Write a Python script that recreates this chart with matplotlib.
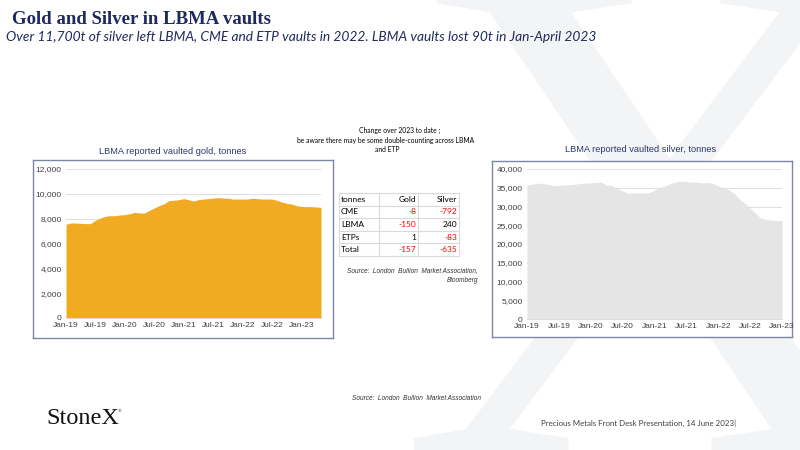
import matplotlib
matplotlib.use("Agg")
import matplotlib.pyplot as plt
import pandas as pd

# ---- data ----
gold_tonnes = [7550, 7650, 7650, 7620, 7600, 7600, 7870, 8050, 8190, 8240,
               8240, 8300, 8320, 8400, 8510, 8460, 8460, 8670, 8860, 9050,
               9200, 9450, 9480, 9530, 9610, 9530, 9420, 9530, 9580, 9610,
               9660, 9690, 9660, 9640, 9580, 9580, 9580, 9580, 9640, 9610,
               9580, 9580, 9580, 9480, 9340, 9240, 9180, 9050, 8990, 8970,
               8970, 8940, 8910]
silver_tonnes = [35690, 35950, 36220, 36130, 35860, 35600, 35600, 35690, 35780,
                 35950, 36130, 36220, 36310, 36400, 36490, 35690, 35600, 34780,
                 34160, 33530, 33620, 33620, 33620, 33710, 34340, 35060, 35510,
                 36130, 36580, 36760, 36670, 36580, 36490, 36310, 36400, 36130,
                 35510, 35060, 34430, 33530, 31910, 30830, 29660, 28130, 26970,
                 26520, 26340, 26250, 26250]

gold_months = pd.date_range("2019-01-01", periods=len(gold_tonnes), freq="MS")
silver_months = pd.date_range("2019-01-01", periods=len(silver_tonnes), freq="MS")

gold_yticks = [0, 2000, 4000, 6000, 8000, 10000, 12000]
silver_yticks = [0, 5000, 10000, 15000, 20000, 25000, 30000, 35000, 40000]

table_header = ["tonnes", "Gold", "Silver"]
table_rows = ["CME", "LBMA", "ETPs", "Total"]
gold_change = [-8, -150, 1, -157]
silver_change = [-792, 240, -83, -635]

GOLD = "#F0AB23"
SILVER = "#E6E5E6"
NAVY = "#1F2A5C"
BOX = "#7C87A6"
GRID = "#D9D9D9"
TICK = "#404040"

W, H = 800, 450


def rect(x0, y0, x1, y1):
    # pixel box (top-left origin) -> figure fraction rect
    return [x0 / W, 1 - y1 / H, (x1 - x0) / W, (y1 - y0) / H]


def ftext(x, y, s, **kw):
    fig.text(x / W, 1 - y / H, s, **kw)


def area_chart(ax, months, values, yticks, color):
    n = len(values)
    ax.fill_between(range(n), values, 0, color=color, lw=0, zorder=2)
    ax.set_xlim(0, n - 1)
    ax.set_ylim(yticks[0], yticks[-1])
    ax.set_yticks(yticks)
    ax.set_yticklabels([f"{v:,}" for v in yticks], fontsize=6, color=TICK,
                       family="Liberation Sans")
    xt = list(range(0, n, 6))
    ax.set_xticks(xt)
    ax.set_xticklabels([months[i].strftime("%b-%y") for i in xt], fontsize=6,
                       color=TICK, family="Liberation Sans")
    ax.tick_params(length=0, pad=3)
    ax.grid(axis="y", color=GRID, lw=0.6, zorder=1)
    for s in ["top", "right", "left"]:
        ax.spines[s].set_visible(False)
    ax.spines["bottom"].set_color(GRID)
    ax.spines["bottom"].set_linewidth(0.6)
    ax.set_facecolor("white")


fig = plt.figure(figsize=(8, 4.5), dpi=100)

# big pale X watermark
fig.text(658 / W, -0.015, "X", fontsize=520, family="Liberation Serif",
         color="#F3F4F6", ha="center", va="baseline", zorder=-5)

# titles
ftext(12, 24, "Gold and Silver in LBMA vaults", fontsize=13.5,
      family="Liberation Serif", weight="bold", color=NAVY, va="baseline")
ftext(6, 41, "Over 11,700t of silver left LBMA, CME and ETP vaults in 2022. "
      "LBMA vaults lost 90t in Jan-April 2023", fontsize=9.9, family="Lato",
      style="italic", color=NAVY, va="baseline")

# framed chart boxes
for box in [rect(33, 160, 333, 338), rect(492, 161, 792, 337)]:
    bax = fig.add_axes(box)
    bax.set_xticks([])
    bax.set_yticks([])
    for sp in bax.spines.values():
        sp.set_color(BOX)
        sp.set_linewidth(1.0)

ax_g = fig.add_axes(rect(66, 169, 321, 318))
area_chart(ax_g, gold_months, gold_tonnes, gold_yticks, GOLD)
ftext(173, 152, "LBMA reported vaulted gold, tonnes", fontsize=6.7,
      family="Liberation Sans", color="#2B3A70", ha="center", va="center")

ax_s = fig.add_axes(rect(527, 169, 782, 319))
area_chart(ax_s, silver_months, silver_tonnes, silver_yticks, SILVER)
ftext(641, 150, "LBMA reported vaulted silver, tonnes", fontsize=6.7,
      family="Liberation Sans", color="#2B3A70", ha="center", va="center")

# change table
ftext(400, 130, "Change over 2023 to date ;", fontsize=4.9, family="Lato",
      ha="center", va="center")
ftext(386, 140, "be aware there may be some double-counting across LBMA",
      fontsize=4.9, family="Lato", ha="center", va="center")
ftext(387, 150, "and ETP", fontsize=4.9, family="Lato", ha="center", va="center")

tab = fig.add_axes(rect(339, 193, 459, 256))
tab.axis("off")
tab.set_xlim(0, 120)
tab.set_ylim(5, 0)
col_edges = [0, 40, 79, 120]
for x in col_edges:
    tab.plot([x, x], [0, 5], color=GRID, lw=0.8, clip_on=False)
for r in range(6):
    tab.plot([0, 120], [r, r], color=GRID, lw=0.8, clip_on=False)
for j, h in enumerate(table_header):
    if j == 0:
        tab.text(col_edges[0] + 2, 0.5, h, fontsize=6, family="Lato",
                 ha="left", va="center")
    else:
        tab.text(col_edges[j + 1] - 2, 0.5, h, fontsize=6, family="Lato",
                 ha="right", va="center")
for i, name in enumerate(table_rows):
    y = i + 1.5
    tab.text(col_edges[0] + 2, y, name, fontsize=6, family="Lato",
             ha="left", va="center")
    for j, v in enumerate([gold_change[i], silver_change[i]]):
        tab.text(col_edges[j + 2] - 2, y, f"{v}", fontsize=6, family="Lato",
                 ha="right", va="center",
                 color="#FF0000" if v < 0 else "black")

ftext(478, 271, "Source:  London  Bullion  Market Association,", fontsize=4.7,
      family="Liberation Sans", style="italic", ha="right", va="center",
      color="#333333")
ftext(478, 281, "Bloomberg", fontsize=4.7, family="Liberation Sans",
      style="italic", ha="right", va="center", color="#333333")

# footer
ftext(416, 398, "Source:  London  Bullion  Market Association", fontsize=4.7,
      family="Liberation Sans", style="italic", ha="center", va="center",
      color="#333333")
ftext(46, 424, "StoneX", fontsize=17.5, family="Liberation Serif",
      color="#111111", va="baseline")
ftext(118, 412, "®", fontsize=3.5, family="Liberation Serif", color="#111111",
      va="baseline")
ftext(541, 423, "Precious Metals Front Desk Presentation, 14 June 2023|",
      fontsize=5.7, family="Lato", color="#404040", va="center")

fig.savefig("out.png", dpi=100)
